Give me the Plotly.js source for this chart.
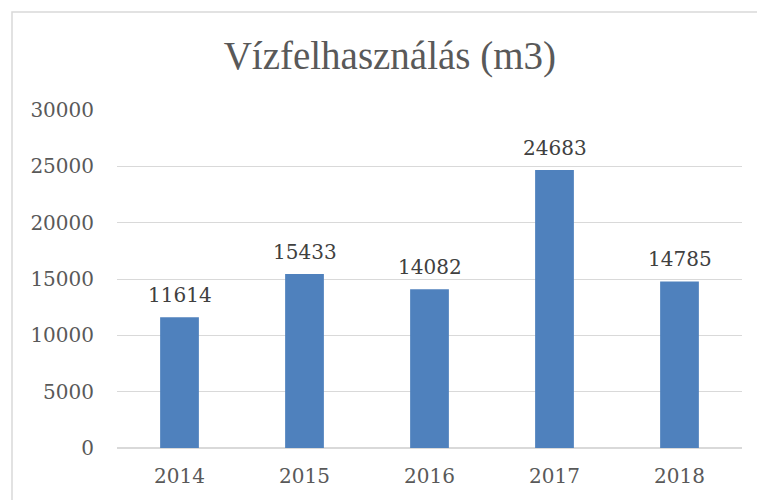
<!DOCTYPE html>
<html>
<head>
<meta charset="utf-8">
<script src="https://cdn.plot.ly/plotly-3.0.1.min.js"></script>
<style>html,body{margin:0;padding:0;background:#fff;}#chart{width:757px;height:500px;}</style>
</head>
<body>
<div id="chart"></div>
<script>
const years = ['2014', '2015', '2016', '2017', '2018'];
const values = [11614, 15433, 14082, 24683, 14785];
const yTicks = [0, 5000, 10000, 15000, 20000, 25000, 30000];

const serif = 'Liberation Serif, DejaVu Serif, serif';
const numFont = 'DejaVu Serif, serif';

const trace = {
  type: 'bar',
  x: years,
  y: values,
  marker: {color: '#4f81bd'},
  cliponaxis: false,
  hoverinfo: 'skip'
};

// value labels placed at each category position (category index) above its bar
const labels = years.map((yr, i) => ({
  x: i,
  y: values[i],
  xref: 'x', yref: 'y',
  text: String(values[i]),
  showarrow: false,
  xanchor: 'center',
  yanchor: 'bottom',
  yshift: 8,
  font: {family: numFont, size: 20, color: '#404040'}
}));

const layout = {
  width: 757,
  height: 500,
  margin: {l: 117, r: 15, t: 110, b: 52},
  paper_bgcolor: '#ffffff',
  plot_bgcolor: '#ffffff',
  showlegend: false,
  bargap: 0.69,
  title: {
    text: 'Vízfelhasználás (m3)',
    font: {family: serif, size: 39, color: '#595959'},
    x: 0.515, xanchor: 'center',
    y: 0.89, yanchor: 'middle'
  },
  xaxis: {
    type: 'category',
    categoryarray: years,
    range: [-0.5, years.length - 0.5],
    showgrid: false,
    showline: false,
    zeroline: false,
    ticks: '',
    tickfont: {family: numFont, size: 20, color: '#595959'},
    ticklabelstandoff: 14
  },
  yaxis: {
    range: [0, 30000],
    tickvals: yTicks,
    ticktext: yTicks.map(String),
    showgrid: true,
    gridcolor: '#d9d9d9',
    gridwidth: 1,
    zeroline: true,
    zerolinecolor: '#d9d9d9',
    zerolinewidth: 1.5,
    showline: false,
    ticks: '',
    tickfont: {family: numFont, size: 20, color: '#595959'},
    ticklabelstandoff: 22
  },
  annotations: labels,
  shapes: [{
    type: 'rect',
    xref: 'paper', yref: 'paper',
    x0: (12 - 117) / 625, x1: (770 - 117) / 625,
    y0: -(520 - 448) / 338, y1: 1 + (110 - 12) / 338,
    line: {color: '#d9d9d9', width: 1.5},
    fillcolor: 'rgba(0,0,0,0)',
    layer: 'below'
  }]
};

Plotly.newPlot('chart', [trace], layout, {staticPlot: true, displayModeBar: false});
</script>
</body>
</html>
